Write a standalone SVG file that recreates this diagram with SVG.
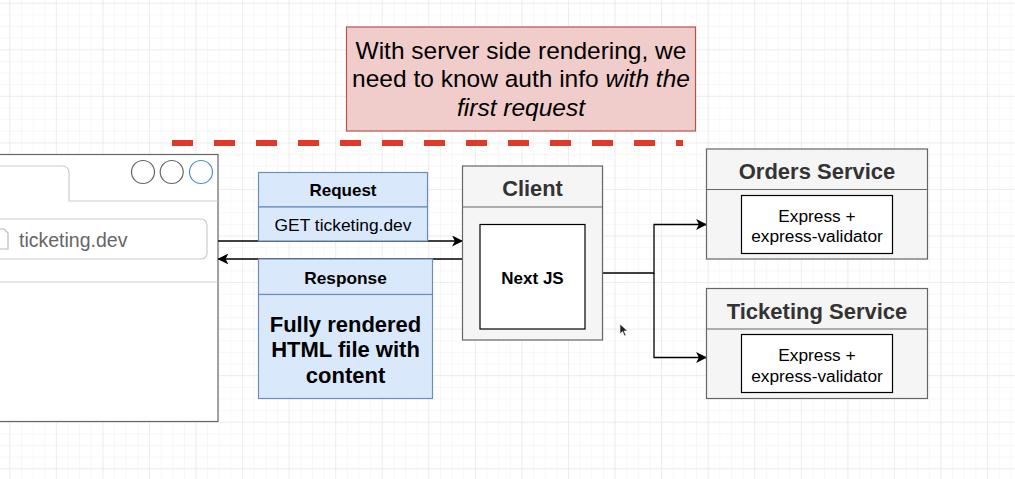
<svg xmlns="http://www.w3.org/2000/svg" width="1015" height="479" viewBox="0 0 1015 479">
  <defs>
    <pattern id="minor" x="9.3" y="2.7" width="11.64" height="11.64" patternUnits="userSpaceOnUse">
      <path d="M0 0 H11.64 M0 0 V11.64" fill="none" stroke="#f0f0f0" stroke-width="1"/>
    </pattern>
    <pattern id="major" x="9.3" y="2.7" width="46.56" height="46.56" patternUnits="userSpaceOnUse">
      <path d="M0 0 H46.56 M0 0 V46.56" fill="none" stroke="#e3e3e3" stroke-width="1"/>
    </pattern>
    <marker id="arr" viewBox="0 0 10 10" refX="9" refY="5" markerWidth="11" markerHeight="11" markerUnits="userSpaceOnUse" orient="auto">
      <path d="M0 0 L10 5 L0 10 L2.5 5 Z" fill="#000"/>
    </marker>
    <style>
      text { font-family: "Liberation Sans", Arial, sans-serif; }
      .blue { fill: #dae8fc; stroke: #6c8ebf; stroke-width: 1.2; }
      .gray { fill: #f5f5f5; stroke: #666; stroke-width: 1.2; }
      .inner { fill: #fff; stroke: #000; stroke-width: 1.2; }
      .conn { fill: none; stroke: #000; stroke-width: 1.3; }
      .hdr { font-weight: bold; fill: #333; text-anchor: middle; }
      .c { text-anchor: middle; fill: #000; }
    </style>
  </defs>
  <rect width="1015" height="479" fill="#fff"/>
  <rect width="1015" height="479" fill="url(#minor)"/>
  <rect width="1015" height="479" fill="url(#major)"/>

  <g id="note">
    <rect x="346.5" y="27" width="349" height="104" fill="#f0cccb" stroke="#b85450" stroke-width="1.2"/>
    <text class="c" x="521" y="58.5" font-size="24.5">With server side rendering, we</text>
    <text class="c" x="521" y="87" font-size="24.5">need to know auth info <tspan font-style="italic">with the</tspan></text>
    <text class="c" x="521" y="115.5" font-size="24.5" font-style="italic">first request</text>
  </g>

  <g id="divider">
    <line x1="172" y1="143" x2="683" y2="143" stroke="#e0392a" stroke-width="6" stroke-dasharray="21 21"/>
  </g>

  <g id="browser">
    <rect x="-5" y="154.5" width="223" height="267" fill="#fff" stroke="#666" stroke-width="1.2"/>
    <path d="M-5 166 H62 Q69 166 69 173 V201 H218" fill="none" stroke="#ccc" stroke-width="1.2"/>
    <circle cx="143" cy="172" r="11.5" fill="#fff" stroke="#666" stroke-width="1.2"/>
    <circle cx="171.7" cy="172" r="11.5" fill="#fff" stroke="#666" stroke-width="1.2"/>
    <circle cx="201" cy="172" r="11.5" fill="#fff" stroke="#4a90d9" stroke-width="1.2"/>
    <rect x="-10" y="219" width="217" height="40" rx="6" fill="#fff" stroke="#ccc" stroke-width="1.2"/>
    <path d="M-2 229 H4 L8 233 V249 H-2" fill="none" stroke="#bbb" stroke-width="1.2"/>
    <text x="19" y="247" font-size="19.5" fill="#666">ticketing.dev</text>
    <line x1="-5" y1="282" x2="218" y2="282" stroke="#ccc" stroke-width="1.2"/>
  </g>

  <g id="connectors">
    <path class="conn" d="M218 241 H462" marker-end="url(#arr)"/>
    <path class="conn" d="M462 259 H218.5" marker-end="url(#arr)"/>
    <path class="conn" d="M602 273 H654 V224.5 H706" marker-end="url(#arr)"/>
    <path class="conn" d="M654 273 V357.5 H706" marker-end="url(#arr)"/>
  </g>

  <g id="request">
    <rect class="blue" x="258.5" y="172.5" width="169" height="34.5"/>
    <rect class="blue" x="258.5" y="207" width="169" height="34"/>
    <text class="c" x="343" y="196" font-size="17" font-weight="bold">Request</text>
    <text class="c" x="343" y="230.5" font-size="17.4">GET ticketing.dev</text>
  </g>

  <g id="response">
    <rect class="blue" x="258.5" y="259" width="174" height="35.5"/>
    <rect class="blue" x="258.5" y="294.5" width="174" height="104"/>
    <text class="c" x="345.5" y="283.5" font-size="17.3" font-weight="bold">Response</text>
    <text class="c" x="345.5" y="331.5" font-size="22" font-weight="bold">Fully rendered</text>
    <text class="c" x="345.5" y="357" font-size="22" font-weight="bold">HTML file with</text>
    <text class="c" x="345.5" y="382.5" font-size="22" font-weight="bold">content</text>
  </g>

  <g id="client">
    <rect class="gray" x="462.5" y="166" width="140" height="174"/>
    <line x1="462.5" y1="207" x2="602.5" y2="207" stroke="#666" stroke-width="1.2"/>
    <text class="hdr" x="532.5" y="196" font-size="21.8">Client</text>
    <rect class="inner" x="480" y="224.5" width="105" height="104.5"/>
    <text class="c" x="532.5" y="284" font-size="17" font-weight="bold">Next JS</text>
  </g>

  <g id="orders-service">
    <rect class="gray" x="706.5" y="149" width="221" height="110"/>
    <line x1="706.5" y1="189.5" x2="927.5" y2="189.5" stroke="#666" stroke-width="1.2"/>
    <text class="hdr" x="817" y="179" font-size="22">Orders Service</text>
    <rect class="inner" x="741.5" y="195.5" width="151" height="58"/>
    <text class="c" x="817" y="221.5" font-size="17.3">Express +</text>
    <text class="c" x="817" y="242" font-size="17.3">express-validator</text>
  </g>

  <g id="ticketing-service">
    <rect class="gray" x="706.5" y="288.5" width="221" height="110"/>
    <line x1="706.5" y1="329" x2="927.5" y2="329" stroke="#666" stroke-width="1.2"/>
    <text class="hdr" x="817" y="318.5" font-size="22">Ticketing Service</text>
    <rect class="inner" x="741.5" y="334.5" width="151" height="58"/>
    <text class="c" x="817" y="361" font-size="17.3">Express +</text>
    <text class="c" x="817" y="381.5" font-size="17.3">express-validator</text>
  </g>

  <g id="cursor">
    <path d="M620 324 V334 L622.5 331.5 L624.5 336 L626 335.3 L624 331 H627.5 Z" fill="#222" stroke="#fff" stroke-width="0.6"/>
  </g>
</svg>
